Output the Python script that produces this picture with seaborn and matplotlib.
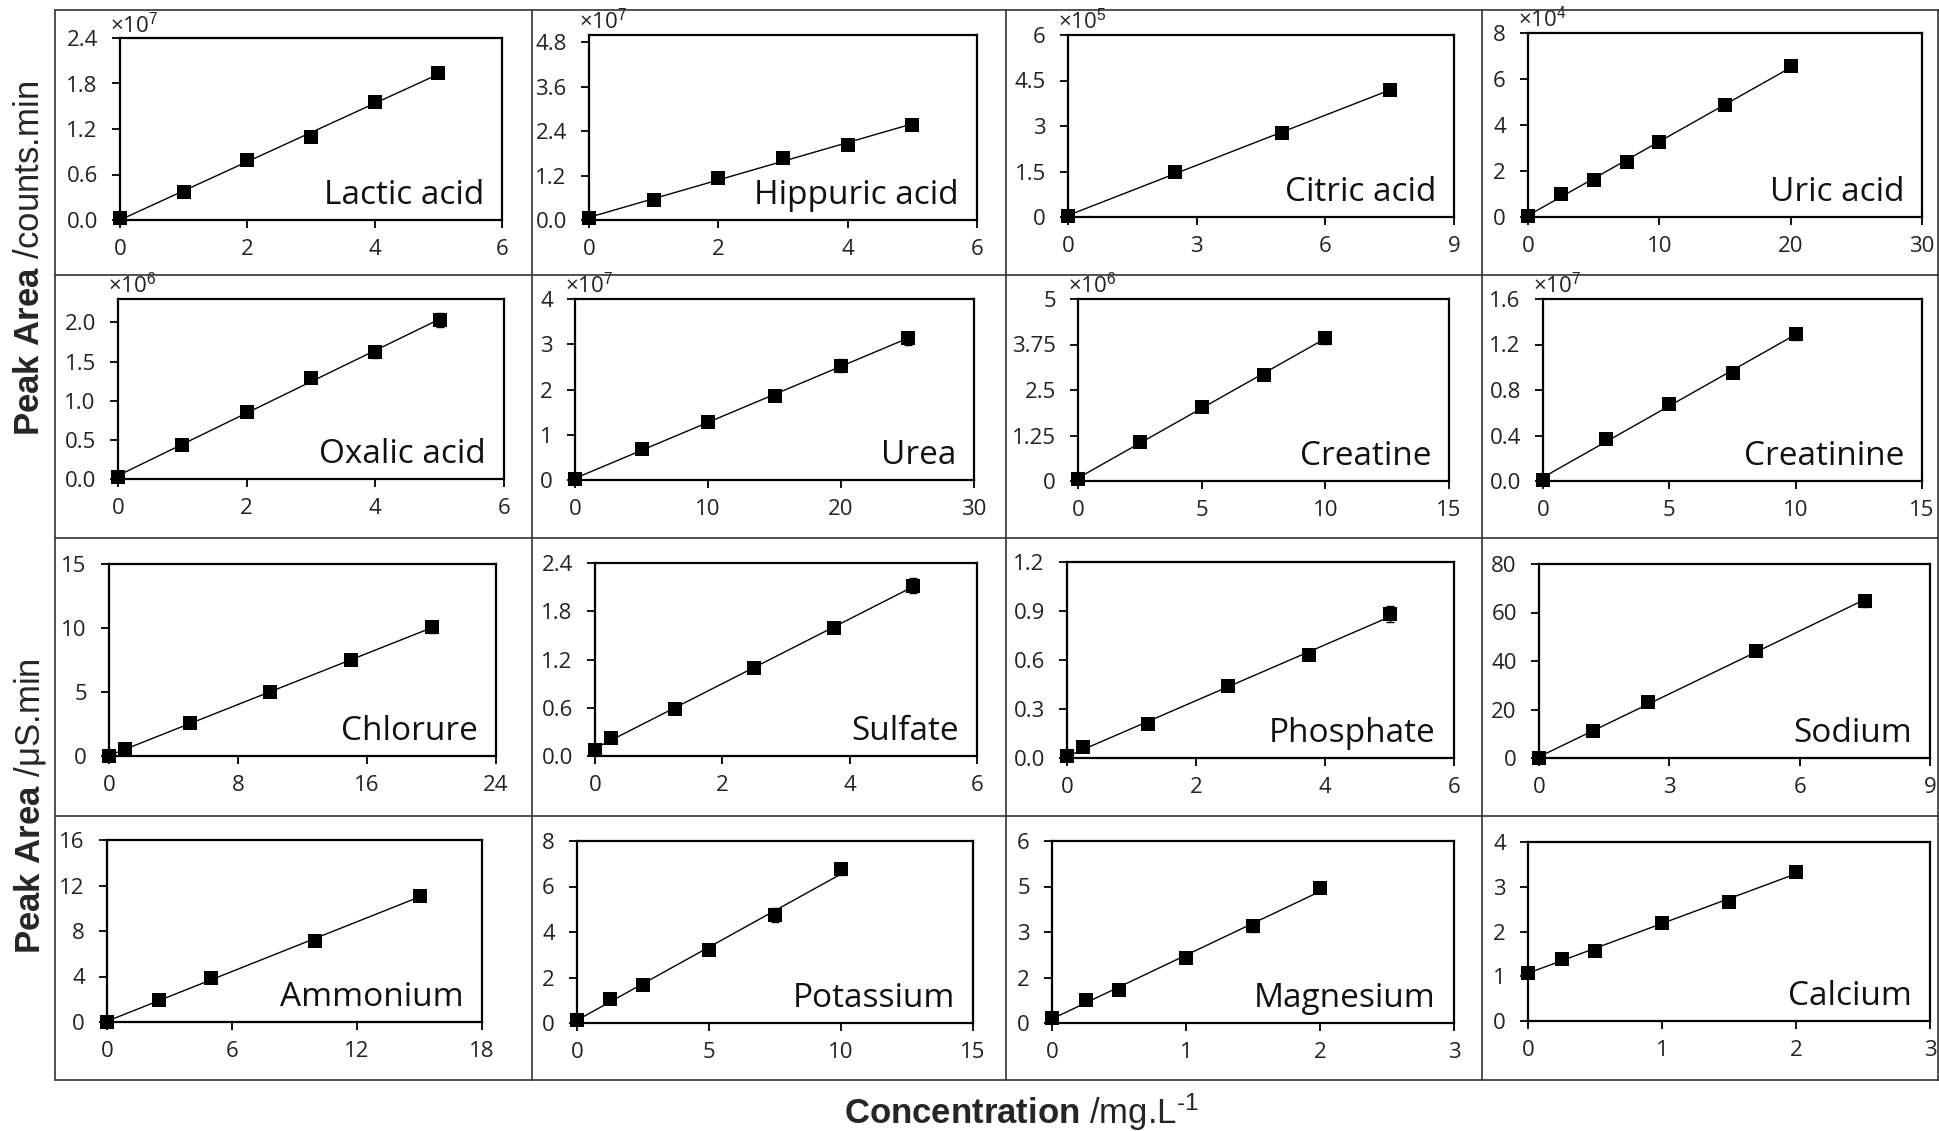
import numpy as np
import matplotlib.pyplot as plt
import seaborn as sns
from matplotlib.lines import Line2D

# 数据 (y 以图中显示单位给出, 乘数单独列出)
lactic_x = [0, 1, 2, 3, 4, 5]
lactic_y = [0.02, 0.37, 0.79, 1.10, 1.55, 1.94]
lactic_err = [0.01, 0.01, 0.02, 0.03, 0.03, 0.06]

hippuric_x = [0, 1, 2, 3, 4, 5]
hippuric_y = [0.05, 0.54, 1.13, 1.67, 2.04, 2.58]
hippuric_err = [0.02, 0.03, 0.03, 0.04, 0.05, 0.12]

citric_x = [0, 2.5, 5, 7.5]
citric_y = [0.02, 1.50, 2.76, 4.19]
citric_err = [0.02, 0.03, 0.05, 0.16]

uric_x = [0, 2.5, 5, 7.5, 10, 15, 20]
uric_y = [0.06, 1.01, 1.61, 2.39, 3.25, 4.88, 6.55]
uric_err = [0.02, 0.05, 0.05, 0.05, 0.07, 0.10, 0.18]

oxalic_x = [0, 1, 2, 3, 4, 5]
oxalic_y = [0.03, 0.43, 0.86, 1.29, 1.62, 2.03]
oxalic_err = [0.01, 0.02, 0.03, 0.05, 0.08, 0.09]

urea_x = [0, 5, 10, 15, 20, 25]
urea_y = [0.02, 0.68, 1.29, 1.85, 2.53, 3.13]
urea_err = [0.01, 0.03, 0.05, 0.06, 0.15, 0.15]

creatine_x = [0, 2.5, 5, 7.5, 10]
creatine_y = [0.05, 1.07, 2.04, 2.91, 3.92]
creatine_err = [0.02, 0.04, 0.05, 0.06, 0.16]

creatinine_x = [0, 2.5, 5, 7.5, 10]
creatinine_y = [0.01, 0.37, 0.68, 0.95, 1.29]
creatinine_err = [0.01, 0.01, 0.02, 0.02, 0.05]

chlorure_x = [0, 1, 5, 10, 15, 20]
chlorure_y = [0.0, 0.57, 2.55, 4.99, 7.48, 10.05]
chlorure_err = [0.1, 0.1, 0.15, 0.2, 0.3, 0.45]

sulfate_x = [0, 0.25, 1.25, 2.5, 3.75, 5]
sulfate_y = [0.08, 0.23, 0.58, 1.10, 1.59, 2.12]
sulfate_err = [0.01, 0.01, 0.02, 0.03, 0.05, 0.09]

phosphate_x = [0, 0.25, 1.25, 2.5, 3.75, 5]
phosphate_y = [0.01, 0.065, 0.21, 0.44, 0.63, 0.88]
phosphate_err = [0.005, 0.01, 0.02, 0.03, 0.025, 0.05]

sodium_x = [0, 1.25, 2.5, 5, 7.5]
sodium_y = [0.0, 11.0, 23.0, 44.2, 64.8]
sodium_err = [0.3, 0.5, 0.8, 0.8, 2.5]

ammonium_x = [0, 2.5, 5, 10, 15]
ammonium_y = [0.0, 1.91, 3.88, 7.16, 11.07]
ammonium_err = [0.05, 0.1, 0.1, 0.15, 0.45]

potassium_x = [0, 1.25, 2.5, 5, 7.5, 10]
potassium_y = [0.15, 1.07, 1.66, 3.23, 4.74, 6.75]
potassium_err = [0.05, 0.1, 0.1, 0.1, 0.3, 0.25]

magnesium_x = [0, 0.25, 0.5, 1, 1.5, 2]
magnesium_y = [0.17, 0.77, 1.10, 2.15, 3.19, 4.46]
magnesium_err = [0.05, 0.08, 0.08, 0.18, 0.2, 0.18]

calcium_x = [0, 0.25, 0.5, 1, 1.5, 2]
calcium_y = [1.08, 1.39, 1.57, 2.19, 2.67, 3.34]
calcium_err = [0.05, 0.08, 0.1, 0.08, 0.1, 0.13]

panel_names = ['Lactic acid', 'Hippuric acid', 'Citric acid', 'Uric acid',
               'Oxalic acid', 'Urea', 'Creatine', 'Creatinine',
               'Chlorure', 'Sulfate', 'Phosphate', 'Sodium',
               'Ammonium', 'Potassium', 'Magnesium', 'Calcium']
multiplier_exp = [7, 7, 5, 4, 6, 7, 6, 7,
                  None, None, None, None, None, None, None, None]
xticks_list = [[0, 2, 4, 6], [0, 2, 4, 6], [0, 3, 6, 9], [0, 10, 20, 30],
               [0, 2, 4, 6], [0, 10, 20, 30], [0, 5, 10, 15], [0, 5, 10, 15],
               [0, 8, 16, 24], [0, 2, 4, 6], [0, 2, 4, 6], [0, 3, 6, 9],
               [0, 6, 12, 18], [0, 5, 10, 15], [0, 1, 2, 3], [0, 1, 2, 3]]
yticks_list = [[0, 0.6, 1.2, 1.8, 2.4], [0, 1.2, 2.4, 3.6, 4.8], [0, 1.5, 3, 4.5, 6], [0, 2, 4, 6, 8],
               [0, 0.5, 1.0, 1.5, 2.0], [0, 1, 2, 3, 4], [0, 1.25, 2.5, 3.75, 5], [0, 0.4, 0.8, 1.2, 1.6],
               [0, 5, 10, 15], [0, 0.6, 1.2, 1.8, 2.4], [0, 0.3, 0.6, 0.9, 1.2], [0, 20, 40, 60, 80],
               [0, 4, 8, 12, 16], [0, 2, 4, 6, 8], [0, 1.5, 3, 4.5, 6], [0, 1, 2, 3, 4]]
ytick_labels = [['0.0', '0.6', '1.2', '1.8', '2.4'], ['0.0', '1.2', '2.4', '3.6', '4.8'],
                ['0', '1.5', '3', '4.5', '6'], ['0', '2', '4', '6', '8'],
                ['0.0', '0.5', '1.0', '1.5', '2.0'], ['0', '1', '2', '3', '4'],
                ['0', '1.25', '2.5', '3.75', '5'], ['0.0', '0.4', '0.8', '1.2', '1.6'],
                ['0', '5', '10', '15'], ['0.0', '0.6', '1.2', '1.8', '2.4'],
                ['0.0', '0.3', '0.6', '0.9', '1.2'], ['0', '20', '40', '60', '80'],
                ['0', '4', '8', '12', '16'], ['0', '2', '4', '6', '8'],
                ['0', '2', '3', '5', '6'], ['0', '1', '2', '3', '4']]
ytop_list = [2.4, 5.0, 6, 8, 2.3, 4, 5, 1.6, 15, 2.4, 1.2, 80, 16, 8, 6, 4]

series = [(lactic_x, lactic_y, lactic_err), (hippuric_x, hippuric_y, hippuric_err),
          (citric_x, citric_y, citric_err), (uric_x, uric_y, uric_err),
          (oxalic_x, oxalic_y, oxalic_err), (urea_x, urea_y, urea_err),
          (creatine_x, creatine_y, creatine_err), (creatinine_x, creatinine_y, creatinine_err),
          (chlorure_x, chlorure_y, chlorure_err), (sulfate_x, sulfate_y, sulfate_err),
          (phosphate_x, phosphate_y, phosphate_err), (sodium_x, sodium_y, sodium_err),
          (ammonium_x, ammonium_y, ammonium_err), (potassium_x, potassium_y, potassium_err),
          (magnesium_x, magnesium_y, magnesium_err), (calcium_x, calcium_y, calcium_err)]

# 布局 (像素: 左, 上, 右, 下)
W, H = 1939, 1131
axes_px = [(120, 38, 502, 220), (589, 35, 977, 220), (1068, 35, 1454, 217), (1528, 33, 1922, 217),
           (118, 299, 504, 479), (575, 299, 974, 480), (1078, 299, 1449, 481), (1543, 299, 1922, 481),
           (109, 564, 496, 756), (595, 563, 977, 756), (1067, 562, 1454, 758), (1539, 564, 1930, 758),
           (107, 840, 482, 1022), (577, 841, 973, 1023), (1052, 841, 1454, 1023), (1528, 842, 1930, 1021)]
cell_x = [55, 532, 1006, 1482, 1938]
cell_y = [10, 275, 538, 816, 1080]

sns.set_style('ticks')
plt.rcParams['font.family'] = ['Open Sans', 'DejaVu Sans']
plt.rcParams['mathtext.fontset'] = 'custom'
plt.rcParams['mathtext.rm'] = 'Liberation Sans'
plt.rcParams['mathtext.bf'] = 'Liberation Sans:bold'
plt.rcParams['mathtext.it'] = 'Liberation Sans:italic'

fig = plt.figure(figsize=(W / 100, H / 100), dpi=100)

def rect(l, t, r, b):
    return [l / W, 1 - b / H, (r - l) / W, (b - t) / H]

for i, name in enumerate(panel_names):
    xs, ys, es = series[i]
    ax = fig.add_axes(rect(*axes_px[i]))
    ax.errorbar(xs, ys, yerr=es, fmt='none', ecolor='black', elinewidth=1,
                capsize=3, capthick=1, zorder=2)
    sns.regplot(x=np.array(xs, dtype=float), y=np.array(ys, dtype=float), ax=ax, ci=None,
                marker='s', color='black',
                scatter_kws={'s': 110, 'clip_on': False, 'zorder': 3, 'linewidths': 0,
                             'alpha': 1},
                line_kws={'linewidth': 1, 'color': 'black', 'zorder': 2})
    xt = xticks_list[i]
    ax.set_xlim(xt[0], xt[-1])
    ax.set_ylim(0, ytop_list[i])
    ax.set_xticks(xt)
    ax.set_xticklabels([str(v) for v in xt])
    ax.set_yticks(yticks_list[i])
    ax.set_yticklabels(ytick_labels[i])
    ax.set_xlabel('')
    ax.set_ylabel('')
    for sp in ax.spines.values():
        sp.set_visible(True)
        sp.set_linewidth(1.6)
        sp.set_color('black')
    ax.tick_params(axis='both', direction='out', length=6, width=1.3,
                   labelsize=16, colors='black', labelcolor='#222222')
    ax.tick_params(axis='x', pad=8)
    ax.tick_params(axis='y', pad=10)
    ax.annotate(name, xy=(1, 0), xycoords='axes fraction', xytext=(-18, 16),
                textcoords='offset pixels', ha='right', va='baseline',
                fontsize=24, color='#111111')
    if multiplier_exp[i] is not None:
        ax.annotate('×10$^{%d}$' % multiplier_exp[i], xy=(0, 1), xycoords='axes fraction',
                    xytext=(-10, 1), textcoords='offset pixels', ha='left', va='bottom',
                    fontsize=16, color='#222222')

# 单元格边框
for x in cell_x:
    fig.add_artist(Line2D([x / W, x / W], [1 - cell_y[0] / H, 1 - cell_y[-1] / H],
                          color='#333333', linewidth=1.2))
for y in cell_y:
    fig.add_artist(Line2D([cell_x[0] / W, 1], [1 - y / H, 1 - y / H],
                          color='#333333', linewidth=1.2))

fig.text(30 / W, 1 - 258 / H, r'$\mathbf{Peak\ Area}$ /counts.min', rotation=90,
         ha='center', va='center', fontsize=25, family='Liberation Sans')
fig.text(30 / W, 1 - 806 / H, r'$\mathbf{Peak\ Area}$ /μS.min', rotation=90,
         ha='center', va='center', fontsize=25, family='Liberation Sans')
fig.text(1021 / W, 1 - 1112 / H, r'$\mathbf{Concentration}$ /mg.L$^{\text{-1}}$',
         ha='center', va='center', fontsize=25, family='Liberation Sans')

fig.savefig('out.png', dpi=100, facecolor='white')
